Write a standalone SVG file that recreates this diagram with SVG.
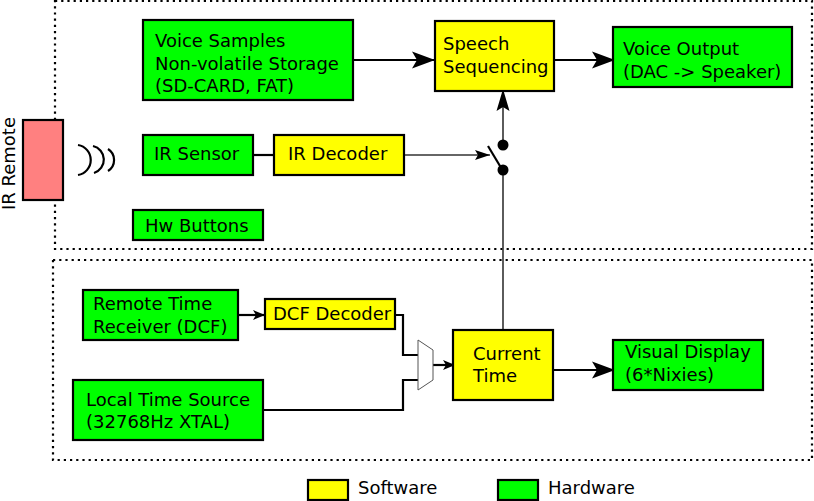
<svg xmlns="http://www.w3.org/2000/svg" width="814" height="501" viewBox="0 0 814 501">
<defs>
<marker id="lg" markerUnits="userSpaceOnUse" markerWidth="24" markerHeight="18" refX="23" refY="8.5" orient="auto" overflow="visible"><path d="M0,0 L23,8.5 L0,17 L5,8.5 Z" fill="#000"/></marker>
<marker id="up" markerUnits="userSpaceOnUse" markerWidth="24" markerHeight="14" refX="22" refY="6.5" orient="auto" overflow="visible"><path d="M0,0 L22,6.5 L0,13 L4,6.5 Z" fill="#000"/></marker>
<marker id="sm" markerUnits="userSpaceOnUse" markerWidth="16" markerHeight="12" refX="15" refY="5" orient="auto" overflow="visible"><path d="M0,0 L15,5 L0,10 L3,5 Z" fill="#000"/></marker>
<marker id="xs" markerUnits="userSpaceOnUse" markerWidth="13" markerHeight="11" refX="12" refY="5" orient="auto" overflow="visible"><path d="M0,0 L12,5 L0,10 L3,5 Z" fill="#000"/></marker>
</defs>
<style>
text{font-family:"DejaVu Sans",sans-serif;font-size:18px;fill:#000}
.b{stroke:#000;stroke-width:2.2}
.g{fill:#00ff00}.y{fill:#ffff00}
.d{fill:none;stroke:#000;stroke-width:2.2;stroke-dasharray:2.2 4}
.c{fill:none;stroke:#000;stroke-width:2.2}
.t{fill:none;stroke:#333;stroke-width:1.6}
</style>
<rect class="d" x="55" y="1" width="757" height="248"/>
<rect class="d" x="53" y="260" width="759" height="200"/>
<g id="connectors">
<path class="c" d="M353,60H435" marker-end="url(#lg)"/>
<path class="c" d="M554,60H615" marker-end="url(#lg)"/>
<path class="c" d="M253,155H274"/>
<path class="t" d="M404,155H490" marker-end="url(#sm)"/>
<path class="t" d="M503,145V89" marker-end="url(#up)"/>
<path class="t" d="M503,170V330"/>
<path class="c" d="M238,315H265" marker-end="url(#xs)"/>
<path class="c" d="M395,315H403V355H418"/>
<path class="c" d="M263,410H403V380H418"/>
<path class="c" d="M433,365H455" marker-end="url(#xs)"/>
<path class="c" d="M553,370H615" marker-end="url(#lg)"/>
</g>
<g id="ir-remote"><rect class="b" x="23" y="120" width="40" height="80" fill="#ff8080"/><text transform="translate(15,210) rotate(-90)">IR Remote</text></g>
<g id="ir-waves"><path class="c" d="M78,145A15.2,15.2 0 0 1 78,175M93,146A14,14 0 0 1 94,173M108,149A13,13 0 0 1 108,171"/></g>
<g id="voice-samples"><rect class="b g" x="143" y="20" width="210" height="80"/><text x="155" y="47">Voice Samples</text><text x="155" y="70">Non-volatile Storage</text><text x="155" y="92">(SD-CARD, FAT)</text></g>
<g id="speech-sequencing"><rect class="b y" x="435" y="21" width="119" height="70"/><text x="443" y="50">Speech</text><text x="443" y="73">Sequencing</text></g>
<g id="voice-output"><rect class="b g" x="613" y="27" width="179" height="60"/><text x="623" y="55">Voice Output</text><text x="623" y="78">(DAC -&gt; Speaker)</text></g>
<g id="ir-sensor"><rect class="b g" x="143" y="135" width="110" height="40"/><text x="154" y="160">IR Sensor</text></g>
<g id="ir-decoder"><rect class="b y" x="274" y="135" width="130" height="40"/><text x="288" y="160">IR Decoder</text></g>
<g id="switch"><path class="c" d="M488,146L503,171"/><circle cx="503" cy="145" r="5.5"/><circle cx="503" cy="170" r="5.5"/></g>
<g id="hw-buttons"><rect class="b g" x="133" y="210" width="130" height="30"/><text x="145" y="232">Hw Buttons</text></g>
<g id="dcf-receiver"><rect class="b g" x="83" y="290" width="155" height="50"/><text x="93" y="310">Remote Time</text><text x="93" y="333">Receiver (DCF)</text></g>
<g id="dcf-decoder"><rect class="b y" x="265" y="299" width="130" height="30"/><text x="273" y="320">DCF Decoder</text></g>
<g id="local-time"><rect class="b g" x="73" y="380" width="190" height="60"/><text x="86" y="406">Local Time Source</text><text x="86" y="428">(32768Hz XTAL)</text></g>
<g id="mux"><path d="M418,340L433,350V380L418,390Z" fill="#fff" stroke="#555" stroke-width="1"/></g>
<g id="current-time"><rect class="b y" x="453" y="330" width="100" height="70"/><text x="473" y="360">Current</text><text x="473" y="382">Time</text></g>
<g id="visual-display"><rect class="b g" x="613" y="340" width="150" height="50"/><text x="625" y="358">Visual Display</text><text x="625" y="381">(6*Nixies)</text></g>
<g id="legend-software"><rect class="b y" x="308" y="480" width="40" height="20"/><text x="358" y="494">Software</text></g>
<g id="legend-hardware"><rect class="b g" x="498" y="480" width="40" height="20"/><text x="548" y="494">Hardware</text></g>
</svg>
